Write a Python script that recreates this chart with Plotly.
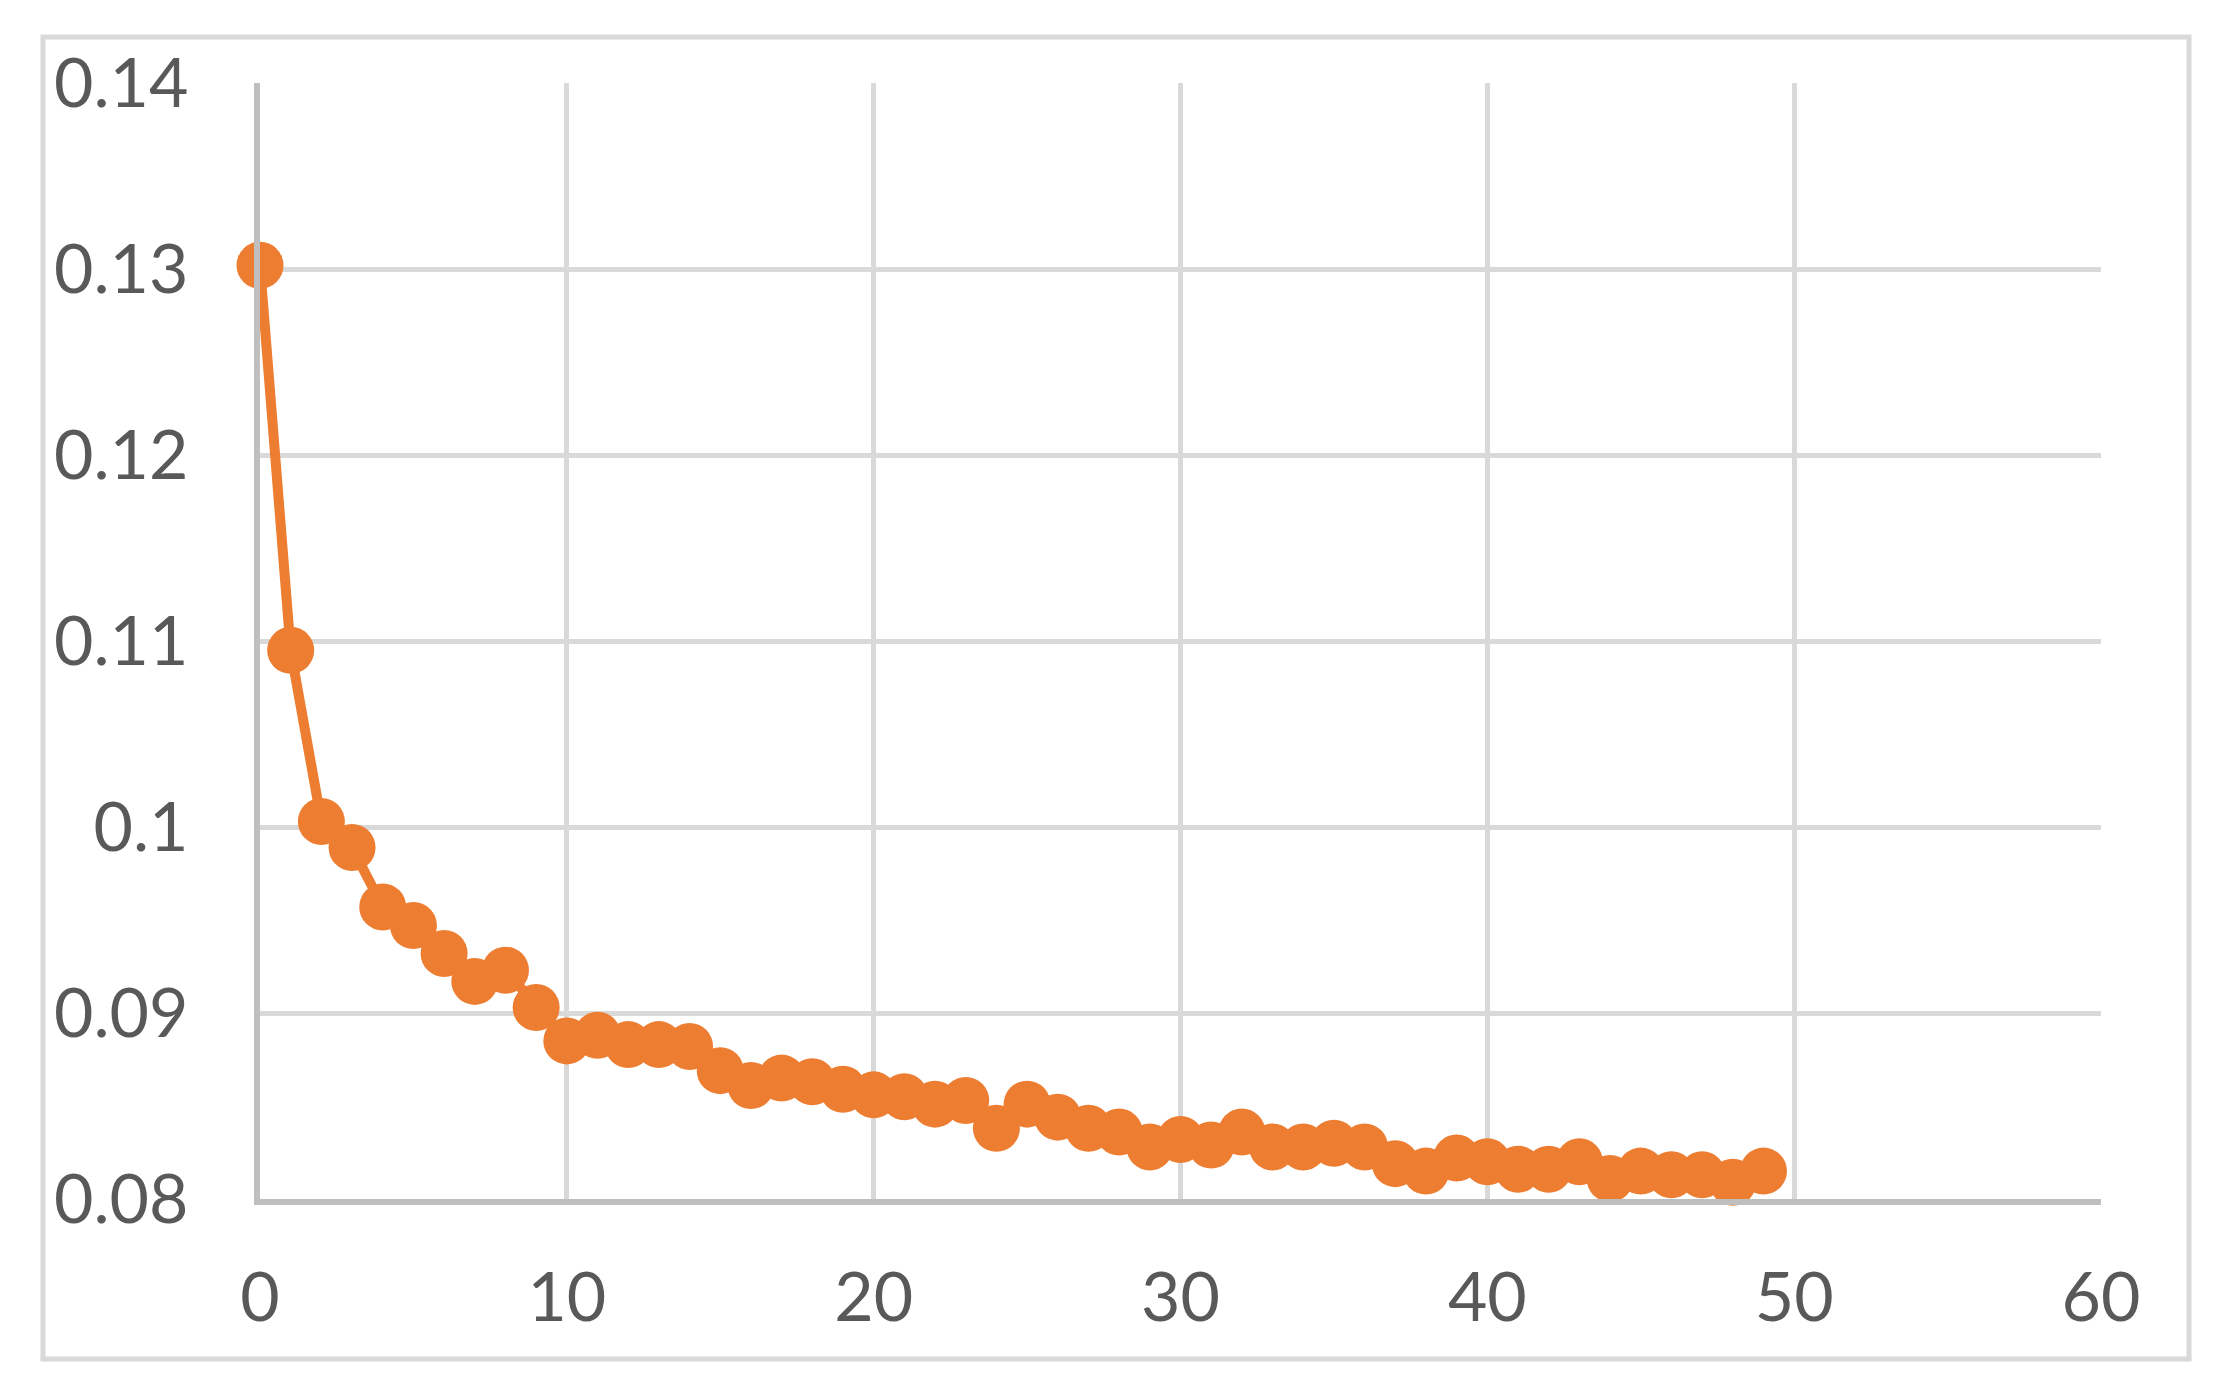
import plotly.graph_objects as go

epochs = list(range(50))
loss = [0.1302, 0.1095, 0.1003, 0.0989, 0.0957, 0.0947, 0.0932, 0.0917, 0.0923, 0.0903,
        0.0885, 0.0888, 0.0883, 0.0883, 0.0882, 0.0869, 0.0861, 0.0865, 0.0863, 0.0859,
        0.0856, 0.0855, 0.0851, 0.0853, 0.0838, 0.0851, 0.0844, 0.0838, 0.0836, 0.0828,
        0.0832, 0.0829, 0.0836, 0.0828, 0.0828, 0.0830, 0.0828, 0.0819, 0.0815, 0.0822,
        0.0820, 0.0816, 0.0816, 0.0820, 0.0811, 0.0815, 0.0813, 0.0813, 0.0809, 0.0815]
x_ticks = [0, 10, 20, 30, 40, 50, 60]
y_ticks = [0.08, 0.09, 0.1, 0.11, 0.12, 0.13, 0.14]
y_labels = ["0.08", "0.09", "0.1", "0.11", "0.12", "0.13", "0.14"]

W, H = 2217, 1388
ml, mr, mt, mb = 252, 124, 75, 197
pw, ph = W - ml - mr, H - mt - mb

fig = go.Figure()
fig.add_trace(go.Scatter(
    x=epochs, y=loss, mode="lines+markers",
    line=dict(color="#ED7D31", width=10),
    marker=dict(color="#ED7D31", size=47),
    cliponaxis=False, showlegend=False,
))

font = dict(family="Lato, Carlito, Calibri, sans-serif", size=68, color="#595959")

fig.update_xaxes(
    range=[0, 60], tickvals=x_ticks, ticktext=[str(v) for v in x_ticks],
    showgrid=True, gridcolor="#D9D9D9", gridwidth=5,
    showline=True, linecolor="#BFBFBF", linewidth=6,
    zeroline=False, tickfont=font, ticklabelstandoff=34, ticks="",
)
fig.update_yaxes(
    range=[0.08, 0.14], tickvals=y_ticks, ticktext=y_labels,
    showgrid=True, gridcolor="#D9D9D9", gridwidth=5,
    showline=True, linecolor="#BFBFBF", linewidth=6,
    zeroline=False, tickfont=font, ticklabelstandoff=52, ticks="",
)

# outer chart-area border
fig.add_shape(type="rect", xref="paper", yref="paper",
              x0=(35 - ml) / pw, x1=(2181 - ml) / pw,
              y0=(H - mb - 1351) / ph, y1=(H - mb - 29) / ph,
              line=dict(color="#D9D9D9", width=5), layer="below")

fig.update_layout(
    width=W, height=H,
    margin=dict(l=ml, r=mr, t=mt, b=mb),
    plot_bgcolor="white", paper_bgcolor="white",
)

fig.write_html("out.html")
